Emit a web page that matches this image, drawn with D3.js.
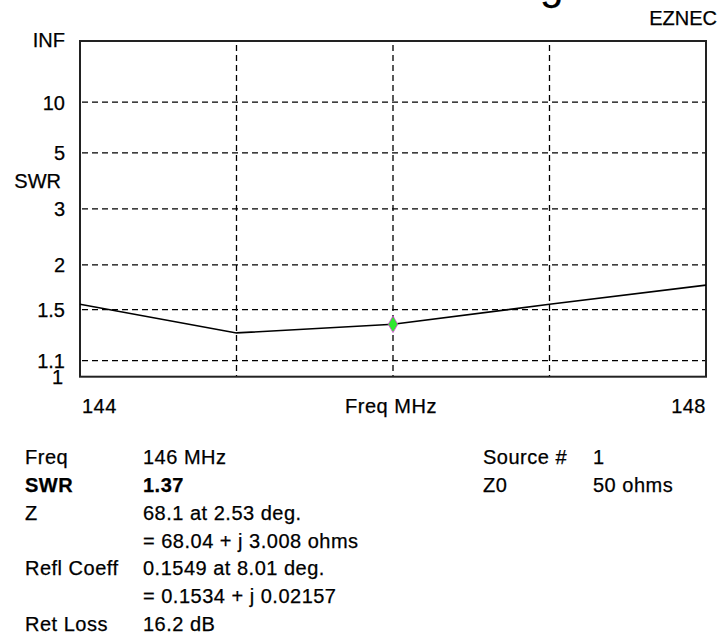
<!DOCTYPE html>
<html>
<head>
<meta charset="utf-8">
<script src="https://cdn.jsdelivr.net/npm/d3@7"></script>
<style>
  body { margin: 0; background: #fff; }
  svg { display: block; font-family: "Liberation Sans", Arial, sans-serif; }
  svg text { font-size: 20px; letter-spacing: 0.5px; fill: #000; stroke: #000; stroke-width: 0.25px; }
</style>
</head>
<body>
<div id="chart"></div>
<script>
// sweep data
var freqs = [144, 145, 146, 147, 148];
var swr = [1.55, 1.30, 1.37, 1.55, 1.75];

// cursor point
var cursorFreq = 146;
var cursorSwr = 1.37;

// grid + tick labels
var swrGrid = [1.1, 1.5, 2, 3, 5, 10];
var swrTicks = [1, 1.1, 1.5, 2, 3, 5, 10, Infinity];
var swrTickText = ["1", "1.1", "1.5", "2", "3", "5", "10", "INF"];
var freqGrid = [145, 146, 147];

// readout below the plot
var infoLabels = ["Freq", "SWR", "Z", "", "Refl Coeff", "", "Ret Loss"];
var infoValues = ["146 MHz", "1.37", "68.1 at 2.53 deg.", "= 68.04 + j 3.008 ohms",
  "0.1549 at 8.01 deg.", "= 0.1534 + j 0.02157", "16.2 dB"];
var sideLabels = ["Source #", "Z0"];
var sideValues = ["1", "50 ohms"];

(function () {
  var W = 720, H = 634;
  var pl = 80, pr = 706, pt = 41, pb = 376.7;

  var svg = d3.select("#chart").append("svg")
    .attr("width", W)
    .attr("height", H);

  // title is cut off at the top, only the descender shows
  svg.append("text")
    .attr("x", 540)
    .attr("y", -1)
    .style("font-size", "42px")
    .text("g");

  svg.append("text")
    .attr("x", 717)
    .attr("y", 25)
    .attr("text-anchor", "end")
    .style("letter-spacing", "0px")
    .text("EZNEC");

  var x = d3.scaleLinear().domain([144, 148]).range([pl, pr]);
  // EZNEC plots SWR on a reflection coefficient scale
  var rho = d3.scaleLinear().domain([0, 1]).range([pb, pt]);
  function y(s) {
    if (s === Infinity) return rho(1);
    return rho((s - 1) / (s + 1));
  }

  // grid
  svg.append("g").selectAll("line")
    .data(swrGrid)
    .enter().append("line")
    .attr("x1", pl + 2).attr("x2", pr)
    .attr("y1", function (d) { return y(d); })
    .attr("y2", function (d) { return y(d); })
    .attr("stroke", "#000")
    .attr("stroke-width", 1.3)
    .attr("stroke-dasharray", "6,4");

  svg.append("g").selectAll("line")
    .data(freqGrid)
    .enter().append("line")
    .attr("x1", function (d) { return x(d); })
    .attr("x2", function (d) { return x(d); })
    .attr("y1", pt + 4).attr("y2", pb)
    .attr("stroke", "#000")
    .attr("stroke-width", 1.3)
    .attr("stroke-dasharray", "6,4");

  // frame
  svg.append("rect")
    .attr("x", pl).attr("y", pt)
    .attr("width", pr - pl).attr("height", pb - pt)
    .attr("fill", "none")
    .attr("stroke", "#222")
    .attr("stroke-width", 2);

  // y labels
  svg.append("g").selectAll("text")
    .data(swrTicks)
    .enter().append("text")
    .attr("x", function (d) { return d === 1 ? 63 : 65; })
    .attr("y", function (d) { return y(d) + (d === Infinity ? 6 : 7.5); })
    .attr("text-anchor", "end")
    .style("letter-spacing", "0px")
    .text(function (d, i) { return swrTickText[i]; });

  svg.append("text")
    .attr("x", 61).attr("y", 188)
    .attr("text-anchor", "end")
    .style("letter-spacing", "0px")
    .text("SWR");

  // x labels
  svg.append("text")
    .attr("x", x(144) + 2).attr("y", 412.5)
    .text("144");
  svg.append("text")
    .attr("x", x(148)).attr("y", 412.5)
    .attr("text-anchor", "end")
    .text("148");
  svg.append("text")
    .attr("x", x(146) - 2).attr("y", 412.5)
    .attr("text-anchor", "middle")
    .text("Freq MHz");

  // SWR curve
  var line = d3.line()
    .x(function (d, i) { return x(freqs[i]); })
    .y(function (d) { return y(d); });

  svg.append("path")
    .datum(swr)
    .attr("d", line)
    .attr("fill", "none")
    .attr("stroke", "#000")
    .attr("stroke-width", 1.6);

  // cursor marker
  svg.append("path")
    .attr("d", d3.symbol().type(d3.symbolDiamond).size(80))
    .attr("transform", "translate(" + x(cursorFreq) + "," + y(cursorSwr) + ")")
    .attr("fill", "#2ee82e")
    .attr("stroke", "#e040e0")
    .attr("stroke-width", 0.8);

  // readout
  var rowY = function (i) { return 464 + i * 27.85; };
  var info = svg.append("g");
  infoLabels.forEach(function (t, i) {
    info.append("text")
      .attr("x", 25).attr("y", rowY(i))
      .style("font-weight", i === 1 ? "bold" : "normal")
      .text(t);
    info.append("text")
      .attr("x", 143).attr("y", rowY(i))
      .style("font-weight", i === 1 ? "bold" : "normal")
      .text(infoValues[i]);
  });
  sideLabels.forEach(function (t, i) {
    info.append("text").attr("x", 483).attr("y", rowY(i)).text(t);
    info.append("text").attr("x", 593).attr("y", rowY(i)).text(sideValues[i]);
  });
})();
</script>
</body>
</html>
